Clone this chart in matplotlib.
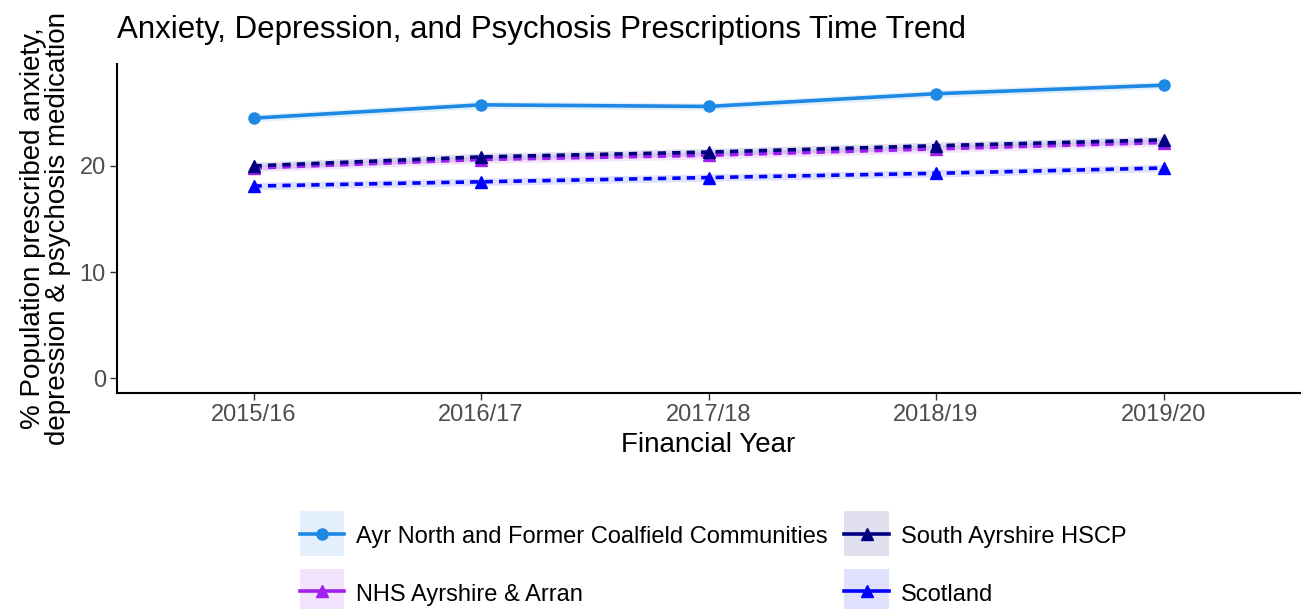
import matplotlib.pyplot as plt
from matplotlib.patches import Patch, Rectangle
from matplotlib.lines import Line2D
from matplotlib.legend_handler import HandlerTuple, HandlerPatch

plt.rcParams['font.family'] = ['Liberation Sans', 'DejaVu Sans']

years = ['2015/16', '2016/17', '2017/18', '2018/19', '2019/20']

ayr_north = [24.5, 25.75, 25.6, 26.8, 27.6]
south_ayrshire = [20.0, 20.85, 21.3, 21.9, 22.45]
nhs_aa = [19.8, 20.6, 21.0, 21.6, 22.2]
scotland = [18.1, 18.5, 18.9, 19.3, 19.8]

series = [
    ('Ayr North and Former Coalfield Communities', ayr_north, '#1E88E5', '-', 'o'),
    ('NHS Ayrshire & Arran', nhs_aa, '#A020F0', '--', '^'),
    ('South Ayrshire HSCP', south_ayrshire, '#000080', '--', '^'),
    ('Scotland', scotland, '#0000FF', '--', '^'),
]


# square key background centred on the legend line
def key_box(legend, orig_handle, xdescent, ydescent, width, height, fontsize):
    h = 32.4
    yc = (height - ydescent) / 2
    return Rectangle((-xdescent, yc - h / 2), width, h)


fig = plt.figure(figsize=(13.1, 6.09), dpi=100)
ax = fig.add_axes([117/1310, 1-393/609, (1300-117)/1310, (393-64)/609])

x = list(range(len(years)))
handles = {}
for name, vals, col, ls, mk in series:
    lo = [v - 0.35 for v in vals]
    hi = [v + 0.35 for v in vals]
    ax.fill_between(x, lo, hi, color=col, alpha=0.12, linewidth=0)
    ax.plot(x, vals, color=col, linestyle=ls, linewidth=2.6, marker=mk,
            markersize=8, dashes=(2.3, 1.7) if ls == '--' else (None, None))
    ln = Line2D([], [], color=col, linewidth=2.6, marker=mk, markersize=8)
    bg = Patch(facecolor=col, alpha=0.12, edgecolor='none')
    handles[name] = (bg, ln)

ax.set_xlim(-0.6, 4.6)
ax.set_ylim(-1.4, 29.6)
ax.set_xticks(x)
ax.set_xticklabels(years)
ax.set_yticks([0, 10, 20])
ax.tick_params(labelsize=17, labelcolor='#4d4d4d', color='#333333', length=5, width=1, pad=3)
for s in ['top', 'right']:
    ax.spines[s].set_visible(False)
for s in ['left', 'bottom']:
    ax.spines[s].set_linewidth(1.5)

ax.set_xlabel('Financial Year', fontsize=20, labelpad=4)
ax.set_ylabel('% Population prescribed anxiety,\ndepression & psychosis medication',
              fontsize=20, labelpad=6, linespacing=0.95)
fig.text(117/1310, 1-30/609, 'Anxiety, Depression, and Psychosis Prescriptions Time Trend',
         fontsize=22.5, va='center', ha='left')

order = ['Ayr North and Former Coalfield Communities', 'NHS Ayrshire & Arran',
         'South Ayrshire HSCP', 'Scotland']
leg = fig.legend([handles[n] for n in order], order, ncol=2,
                 handler_map={tuple: HandlerTuple(ndivide=1, pad=0),
                              Patch: HandlerPatch(patch_func=key_box)},
                 loc='center', bbox_to_anchor=(713/1310, 1-565/609),
                 frameon=False, fontsize=17, handlelength=1.9, handleheight=1.0,
                 columnspacing=0.7, labelspacing=1.45, handletextpad=0.5,
                 borderpad=0)

fig.savefig('out.png', dpi=100)
